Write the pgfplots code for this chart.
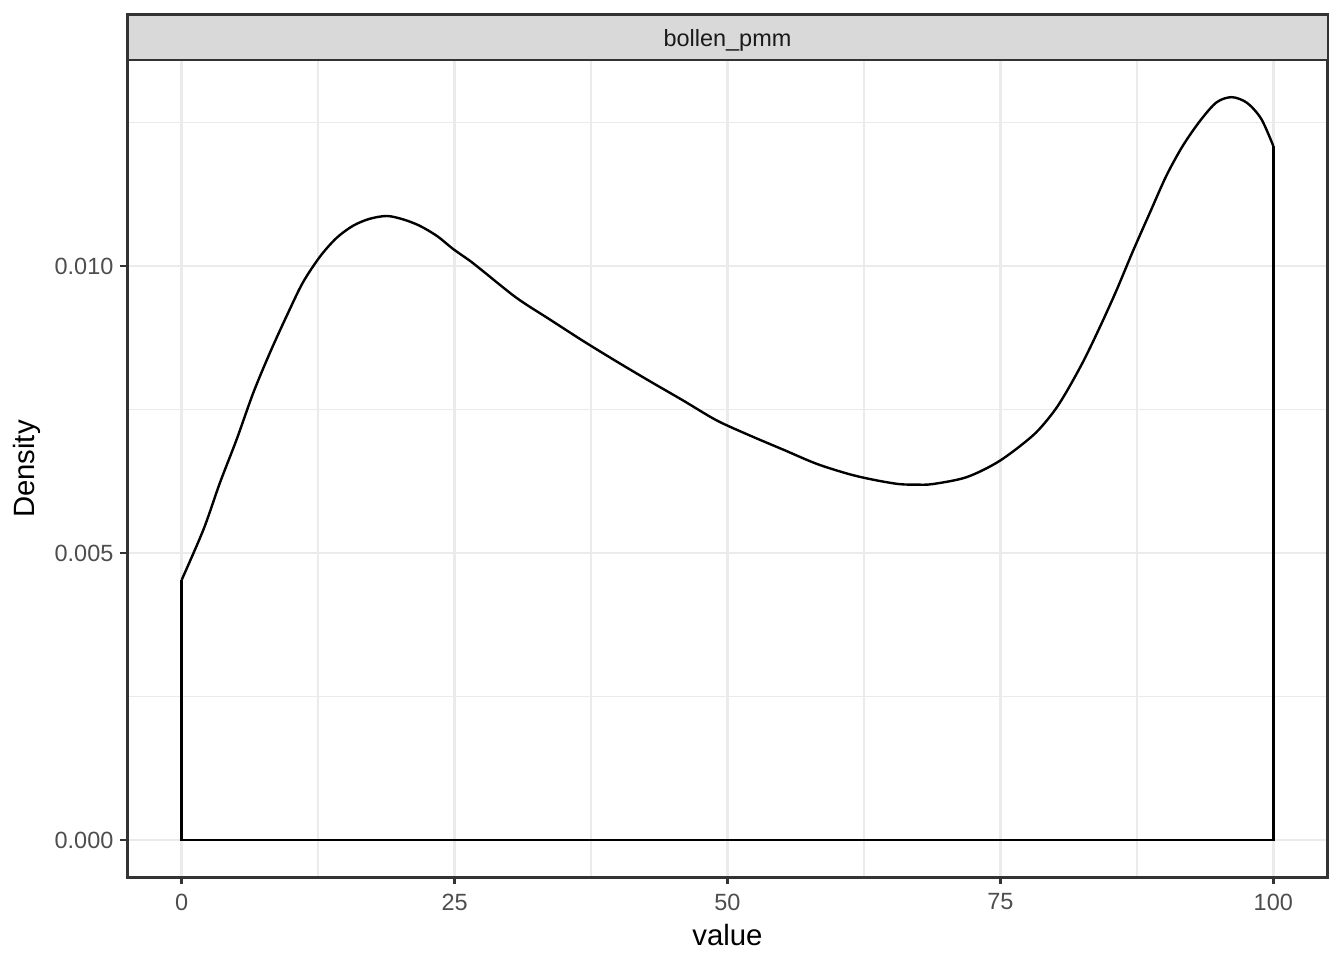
\documentclass[border=0pt]{standalone}
\usepackage{fontspec}
\setmainfont{Liberation Sans}
\usepackage{pgfplots}
\pgfplotsset{compat=1.18}
\definecolor{g10}{HTML}{1A1A1A}
\definecolor{g20}{HTML}{333333}
\definecolor{g30}{HTML}{4D4D4D}
\definecolor{g85}{HTML}{D9D9D9}
\definecolor{g92}{HTML}{EBEBEB}
\pgfplotstableread{
x y
0.0 0.00453
2.0 0.00541
3.5 0.00622
5.04 0.00698
6.56 0.00779
8.09 0.00849
9.62 0.00913
11.1 0.00971
12.7 0.01017
14.2 0.01049
15.7 0.01070
17.2 0.01082
18.8 0.01087
20.3 0.01081
21.8 0.01070
23.4 0.01052
24.9 0.01029
26.4 0.01009
27.6 0.00991
30.7 0.00944
33.7 0.00907
36.8 0.00869
39.8 0.00834
42.9 0.00799
45.9 0.00766
49.0 0.00731
52.0 0.00705
55.1 0.00680
58.2 0.00655
61.2 0.00637
63.5 0.00627
65.7 0.00620
67.3 0.00619
68.8 0.00620
71.9 0.00632
74.9 0.00660
78.0 0.00705
79.8 0.00744
81.0 0.00779
82.6 0.00834
84.1 0.00893
85.6 0.00956
87.1 0.01024
88.7 0.01093
90.2 0.01157
91.7 0.01209
93.3 0.01253
94.8 0.01285
96.2 0.01294
97.6 0.01284
98.9 0.01256
100.0 0.01209
}\density
\begin{document}
\begin{tikzpicture}
\useasboundingbox (0,0) rectangle (504pt,360pt);
\begin{axis}[
  at={(47.66pt,31.09pt)}, anchor=south west,
  scale only axis, width=450.3pt, height=306.4pt,
  xmin=-5, xmax=105, ymin=-0.000647, ymax=0.013587,
  xtick={0,25,50,75,100}, xticklabels={0,25,50,75,100},
  ytick={0,0.005,0.01}, yticklabels={0.000,0.005,0.010},
  scaled y ticks=false,
  minor xtick={12.5,37.5,62.5,87.5}, minor ytick={0.0025,0.0075,0.0125},
  grid=both,
  major grid style={line width=1.07pt, color=g92},
  minor grid style={line width=0.53pt, color=g92},
  axis line style={line width=1.07pt, color=g20},
  tick pos=left, tick align=outside,
  major tick length=2.75pt, minor tick length=0pt,
  major tick style={line width=1.07pt, color=g20},
  minor tick style={draw=none},
  ticklabel style={font=\fontsize{8.8}{10}\selectfont, color=g30, inner sep=0pt},
  xticklabel style={anchor=north, yshift=-3.3pt},
  yticklabel style={anchor=east, xshift=-2.2pt},
]
\addplot[black, line width=0.9pt, smooth, tension=0.5] table[x=x,y=y] {\density};
\addplot[black, line width=0.9pt, sharp plot, line join=miter] coordinates {(0,0.00453) (0,0) (100,0) (100,0.01209)};
\end{axis}
\draw[g20, line width=1.07pt, fill=g85] (47.66pt,337.49pt) rectangle (498.0pt,354.56pt);
\node[anchor=base, inner sep=0pt, text=g10, font=\fontsize{8.8}{10}\selectfont] at (272.8pt,342.5pt) {bollen\_pmm};
\node[anchor=base, inner sep=0pt, font=\fontsize{11}{13}\selectfont] at (272.8pt,5.6pt) {value};
\node[anchor=base, inner sep=0pt, rotate=90, font=\fontsize{11}{13}\selectfont] at (13.1pt,184.1pt) {Density};
\end{tikzpicture}
\end{document}
